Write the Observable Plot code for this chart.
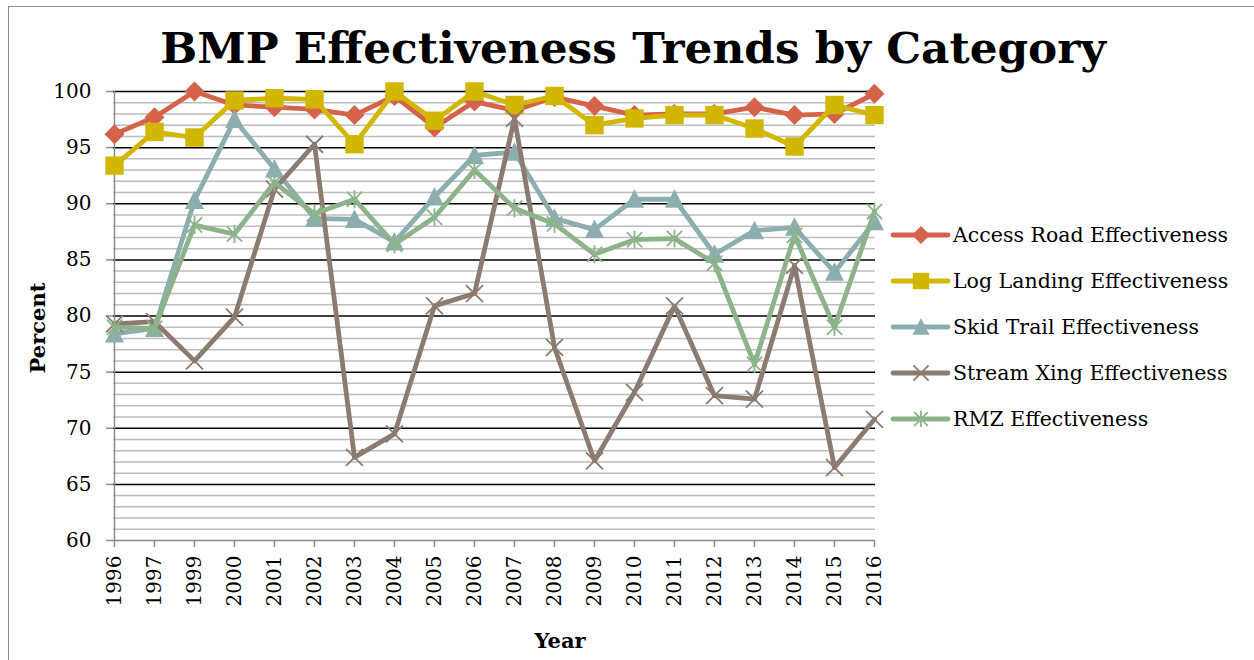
<!DOCTYPE html>
<html>
<head>
<meta charset="utf-8">
<script src="https://cdn.jsdelivr.net/npm/d3@7"></script>
<script src="https://cdn.jsdelivr.net/npm/@observablehq/plot@0.6"></script>
<style>
  html, body { margin: 0; padding: 0; background: #fff; }
  #chart { position: relative; width: 1254px; height: 660px; overflow: hidden; background: #fff; }
  #frame { position: absolute; left: 8px; top: 6px; width: 1400px; height: 800px;
           border-left: 1.5px solid #8a8a8a; border-top: 1.5px solid #8a8a8a; }
  #plot { position: absolute; left: 0; top: 0; }
</style>
</head>
<body>
<div id="chart"><div id="frame"></div><div id="plot"></div></div>
<script>
// Survey years (1998 not surveyed)
const years = ["1996", "1997", "1999", "2000", "2001", "2002", "2003", "2004", "2005", "2006",
               "2007", "2008", "2009", "2010", "2011", "2012", "2013", "2014", "2015", "2016"];

// Percent effectiveness by BMP category
const accessRoad = [96.2, 97.7, 100.0, 98.8, 98.6, 98.4, 97.9, 99.6, 96.8, 99.1,
                    98.3, 99.5, 98.7, 97.9, 98.0, 98.0, 98.6, 97.9, 98.0, 99.8];
const logLanding = [93.4, 96.4, 95.9, 99.2, 99.4, 99.3, 95.3, 100.0, 97.4, 100.0,
                    98.8, 99.6, 97.0, 97.6, 97.9, 97.9, 96.7, 95.1, 98.8, 97.9];
const skidTrail  = [78.4, 78.9, 90.3, 97.5, 93.1, 88.7, 88.6, 86.6, 90.6, 94.3,
                    94.6, 88.7, 87.7, 90.4, 90.4, 85.5, 87.6, 87.9, 83.9, 88.4];
const streamXing = [79.3, 79.5, 76.0, 79.9, 91.3, 95.3, 67.4, 69.5, 80.9, 82.0,
                    97.6, 77.2, 67.1, 73.2, 80.9, 72.9, 72.6, 84.5, 66.5, 70.8];
const rmz        = [79.0, 78.9, 88.1, 87.3, 91.9, 89.1, 90.4, 86.4, 88.8, 93.0,
                    89.6, 88.2, 85.5, 86.8, 86.9, 84.7, 75.7, 87.2, 79.0, 89.3];

const seriesNames = ["Access Road Effectiveness", "Log Landing Effectiveness",
                     "Skid Trail Effectiveness", "Stream Xing Effectiveness", "RMZ Effectiveness"];
const seriesValues = [accessRoad, logLanding, skidTrail, streamXing, rmz];
const seriesColors = ["#d5634a", "#d2b700", "#8caeae", "#8b7b70", "#8db38a"];

const majorTicks = d3.range(60, 101, 5);
const minorTicks = d3.range(61, 100).filter(v => v % 5 !== 0);

// Marker shapes; the size Plot passes is pi*r^2, so r is the half-width
const half = size => Math.sqrt(size / Math.PI);
const diamond = { draw(c, s) { const r = half(s); c.moveTo(0, -r); c.lineTo(r, 0); c.lineTo(0, r); c.lineTo(-r, 0); c.closePath(); } };
const square = { draw(c, s) { const r = half(s); c.moveTo(-r, -r); c.lineTo(r, -r); c.lineTo(r, r); c.lineTo(-r, r); c.closePath(); } };
const triangle = { draw(c, s) { const r = half(s); c.moveTo(0, -r * 1.05); c.lineTo(r, r * 0.9); c.lineTo(-r, r * 0.9); c.closePath(); } };
const cross = { draw(c, s) { const r = half(s); c.moveTo(-r, -r); c.lineTo(r, r); c.moveTo(-r, r); c.lineTo(r, -r); } };
const star = { draw(c, s) { const r = half(s), d = r * 0.85; c.moveTo(-d, -d); c.lineTo(d, d); c.moveTo(-d, d); c.lineTo(d, -d); c.moveTo(0, -r); c.lineTo(0, r); } };

const markers = [
  { symbol: diamond, r: 10, filled: true },
  { symbol: square, r: 9.2, filled: true },
  { symbol: triangle, r: 9.5, filled: true },
  { symbol: cross, r: 8.5, filled: false },
  { symbol: star, r: 9, filled: false }
];

const rows = seriesNames.map((name, k) =>
  years.map((year, i) => ({ series: name, year, value: seriesValues[k][i] })));

const dotOptions = (k) => markers[k].filled
  ? { symbol: markers[k].symbol, r: markers[k].r, fill: seriesColors[k], stroke: "none" }
  : { symbol: markers[k].symbol, r: markers[k].r, fill: "none", stroke: seriesColors[k], strokeWidth: 1.8 };

const seriesMarks = rows.flatMap((data, k) => [
  Plot.line(data, { x: "year", y: "value", stroke: seriesColors[k], strokeWidth: 4.8, strokeLinejoin: "round", strokeLinecap: "round" }),
  Plot.dot(data, { x: "year", y: "value", ...dotOptions(k) })
]);

const axisGray = "#8a8a8a";

const svg = Plot.plot({
  width: 1254,
  height: 660,
  marginLeft: 113,
  marginRight: 379,
  marginTop: 91,
  marginBottom: 120,
  style: { fontFamily: "'DejaVu Serif', serif", fontSize: "20px", background: "transparent", color: "#000", overflow: "visible" },
  x: { type: "point", domain: years, padding: 0, axis: null },
  y: { domain: [60, 100], axis: null },
  marks: [
    Plot.ruleY(minorTicks, { stroke: "#bdbdbd", strokeWidth: 1.5 }),
    Plot.ruleY(majorTicks.filter(v => v > 60), { stroke: "#000", strokeWidth: 1.5 }),
    Plot.ruleY([60], { stroke: axisGray, strokeWidth: 1.5 }),
    Plot.ruleX([years[0]], { stroke: axisGray, strokeWidth: 1.5 }),
    Plot.axisY({ ticks: majorTicks, tickSize: 7, tickPadding: 15, stroke: axisGray, strokeWidth: 1.5, fill: "#000", label: null, tickFormat: d => String(d) }),
    Plot.axisX({ tickSize: 7, tickPadding: 8, tickRotate: -90, stroke: axisGray, strokeWidth: 1.5, fill: "#000", label: null }),
    ...seriesMarks
  ]
});

document.getElementById("plot").appendChild(svg);

const root = d3.select(svg);

// Title and axis titles
root.append("text")
  .attr("x", 633).attr("y", 63).attr("text-anchor", "middle")
  .style("font", "bold 43.8px 'DejaVu Serif', serif").attr("fill", "#000")
  .text("BMP Effectiveness Trends by Category");

root.append("text")
  .attr("transform", "translate(45,328) rotate(-90)").attr("text-anchor", "middle")
  .style("font", "bold 21px 'DejaVu Serif', serif").attr("fill", "#000")
  .text("Percent");

root.append("text")
  .attr("x", 560).attr("y", 648).attr("text-anchor", "middle")
  .style("font", "bold 21px 'DejaVu Serif', serif").attr("fill", "#000")
  .text("Year");

// Legend
const legend = root.append("g").attr("text-anchor", "start");
seriesNames.forEach((name, k) => {
  const g = legend.append("g").attr("transform", `translate(893,${235 + 46 * k})`);
  g.append("line").attr("x1", 0).attr("x2", 55).attr("y1", 0).attr("y2", 0)
    .attr("stroke", seriesColors[k]).attr("stroke-width", 4.8).attr("stroke-linecap", "round");
  const p = d3.path();
  const m = markers[k];
  m.symbol.draw(p, Math.PI * m.r * m.r * 0.8);
  const mk = g.append("path").attr("d", p.toString()).attr("transform", "translate(28,0)");
  if (m.filled) mk.attr("fill", seriesColors[k]);
  else mk.attr("fill", "none").attr("stroke", seriesColors[k]).attr("stroke-width", 1.8);
  g.append("text").attr("x", 60).attr("y", 7).attr("text-anchor", "start")
    .style("font", "20.5px 'DejaVu Serif', serif").attr("fill", "#000")
    .text(name);
});
</script>
</body>
</html>
